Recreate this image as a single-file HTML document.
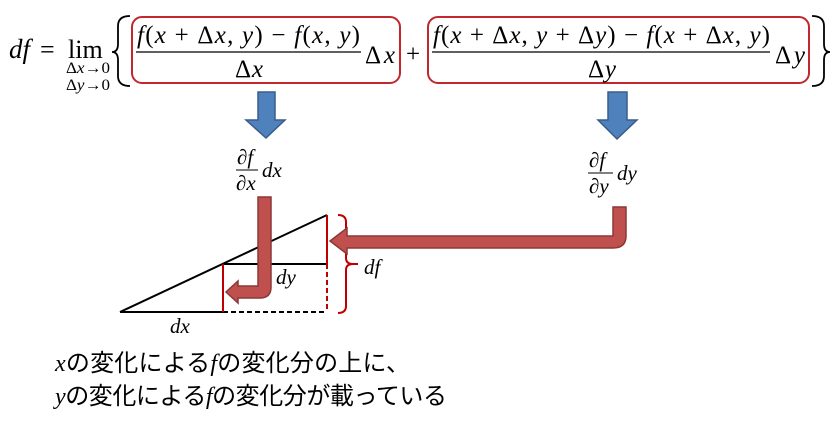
<!DOCTYPE html>
<html><head><meta charset="utf-8"><style>
html,body{margin:0;padding:0;background:#fff;}
svg{display:block;}
.m{font-family:"Liberation Serif",serif;font-style:italic;fill:#000;}
.r{font-family:"Liberation Serif",serif;fill:#000;}
.j{font-family:"Liberation Sans","Noto Sans CJK JP",sans-serif;fill:#000;font-size:24px;}
</style></head><body>
<svg width="833" height="422" viewBox="0 0 833 422" xmlns="http://www.w3.org/2000/svg">
<!-- formula -->
<text x="9" y="58" class="m" font-size="27">df</text>
<text x="40" y="58" class="r" font-size="26">=</text>
<text x="68" y="58" class="r" font-size="26">lim</text>
<text x="66" y="73" class="r" font-size="16" textLength="44" lengthAdjust="spacingAndGlyphs">Δ<tspan font-style="italic">x</tspan>→0</text>
<text x="66" y="90" class="r" font-size="16" textLength="44" lengthAdjust="spacingAndGlyphs">Δ<tspan font-style="italic">y</tspan>→0</text>
<path d="M130,16 Q118,16 118,26 V44 Q118,52 112,52 Q118,52 118,60 V76 Q118,86 130,86" fill="none" stroke="#000" stroke-width="1.8"/>
<rect x="132" y="17" width="268" height="66" rx="10" fill="none" stroke="#c0282d" stroke-width="2"/>
<text x="137" y="43" class="m" font-size="25" textLength="223" lengthAdjust="spacing">f<tspan font-style="normal">(</tspan>x <tspan font-style="normal">+ Δ</tspan>x<tspan font-style="normal">,</tspan> y<tspan font-style="normal">) − </tspan>f<tspan font-style="normal">(</tspan>x<tspan font-style="normal">,</tspan> y<tspan font-style="normal">)</tspan></text>
<line x1="136" y1="52" x2="361" y2="52" stroke="#000" stroke-width="1.3"/>
<text x="235" y="77" class="r" font-size="25" textLength="28" lengthAdjust="spacing">Δ<tspan font-style="italic">x</tspan></text>
<text x="365" y="63" class="r" font-size="25" textLength="30" lengthAdjust="spacing">Δ<tspan font-style="italic">x</tspan></text>
<text x="406" y="62" class="r" font-size="25">+</text>
<rect x="428" y="17" width="381" height="66" rx="10" fill="none" stroke="#c0282d" stroke-width="2"/>
<text x="433" y="43" class="m" font-size="25" textLength="337" lengthAdjust="spacing">f<tspan font-style="normal">(</tspan>x <tspan font-style="normal">+ Δ</tspan>x<tspan font-style="normal">,</tspan> y <tspan font-style="normal">+ Δ</tspan>y<tspan font-style="normal">) − </tspan>f<tspan font-style="normal">(</tspan>x <tspan font-style="normal">+ Δ</tspan>x<tspan font-style="normal">,</tspan> y<tspan font-style="normal">)</tspan></text>
<line x1="432" y1="52" x2="770" y2="52" stroke="#000" stroke-width="1.3"/>
<text x="588" y="77" class="r" font-size="25" textLength="28" lengthAdjust="spacing">Δ<tspan font-style="italic">y</tspan></text>
<text x="775" y="63" class="r" font-size="25" textLength="30" lengthAdjust="spacing">Δ<tspan font-style="italic">y</tspan></text>
<path d="M812,16 Q824,16 824,26 V44 Q824,52 830,52 Q824,52 824,60 V76 Q824,86 812,86" fill="none" stroke="#000" stroke-width="1.8"/>
<!-- blue arrows -->
<path d="M258,92 H275 V120 H285 L266,138 L246,120 H258 Z" fill="#4f81bd" stroke="#385d8a" stroke-width="1.5"/>
<path d="M608,92 H627 V120 H637 L617,139 L598,120 H608 Z" fill="#4f81bd" stroke="#385d8a" stroke-width="1.5"/>
<!-- partials -->
<text x="237" y="164" class="m" font-size="21">∂f</text>
<line x1="236" y1="170" x2="258" y2="170" stroke="#000" stroke-width="1"/>
<text x="236" y="190" class="m" font-size="21">∂x</text>
<text x="262" y="177" class="m" font-size="21">dx</text>
<text x="589" y="167" class="m" font-size="21">∂f</text>
<line x1="588" y1="173" x2="613" y2="173" stroke="#000" stroke-width="1"/>
<text x="589" y="193" class="m" font-size="21">∂y</text>
<text x="617" y="180" class="m" font-size="21">dy</text>
<!-- triangle -->
<line x1="120" y1="312" x2="327" y2="215" stroke="#000" stroke-width="2"/>
<line x1="120" y1="312" x2="223" y2="312" stroke="#000" stroke-width="2"/>
<line x1="223" y1="312" x2="327" y2="312" stroke="#000" stroke-width="2" stroke-dasharray="5,3"/>
<line x1="223" y1="264" x2="327" y2="264" stroke="#000" stroke-width="2"/>
<line x1="223" y1="264" x2="223" y2="312" stroke="#c00000" stroke-width="2"/>
<line x1="327" y1="215" x2="327" y2="264" stroke="#c00000" stroke-width="2"/>
<line x1="327" y1="264" x2="327" y2="312" stroke="#c00000" stroke-width="2" stroke-dasharray="5,3"/>
<path d="M338,215 Q346,215 346,222 V258 Q346,264 353,264 Q346,264 346,270 V306 Q346,313 338,313" fill="none" stroke="#c00000" stroke-width="2"/>
<line x1="350" y1="264" x2="358" y2="264" stroke="#c00000" stroke-width="2"/>
<text x="364" y="274" class="m" font-size="21">df</text>
<text x="276" y="284" class="m" font-size="21">dy</text>
<text x="170" y="333" class="m" font-size="21">dx</text>
<!-- red arrows -->
<path d="M258,197 H271 V287 Q271,298 260,298 H238 V303 L226,292 L238,281 V286 H258 Z" fill="#c0504d" stroke="#8c3836" stroke-width="1.5"/>
<path d="M613,207 H626 V236 Q626,248 613,248 H347 V254 L330,241 L347,228 V236 H613 Z" fill="#c0504d" stroke="#8c3836" stroke-width="1.5"/>
<!-- japanese text -->
<text x="55" y="371" class="j" textLength="355" lengthAdjust="spacing"><tspan font-family="Liberation Serif" font-style="italic">x</tspan>の変化による<tspan font-family="Liberation Serif" font-style="italic">f</tspan>の変化分の上に、</text>
<text x="55" y="404" class="j" textLength="392" lengthAdjust="spacing"><tspan font-family="Liberation Serif" font-style="italic">y</tspan>の変化による<tspan font-family="Liberation Serif" font-style="italic">f</tspan>の変化分が載っている</text>
</svg>
</body></html>
